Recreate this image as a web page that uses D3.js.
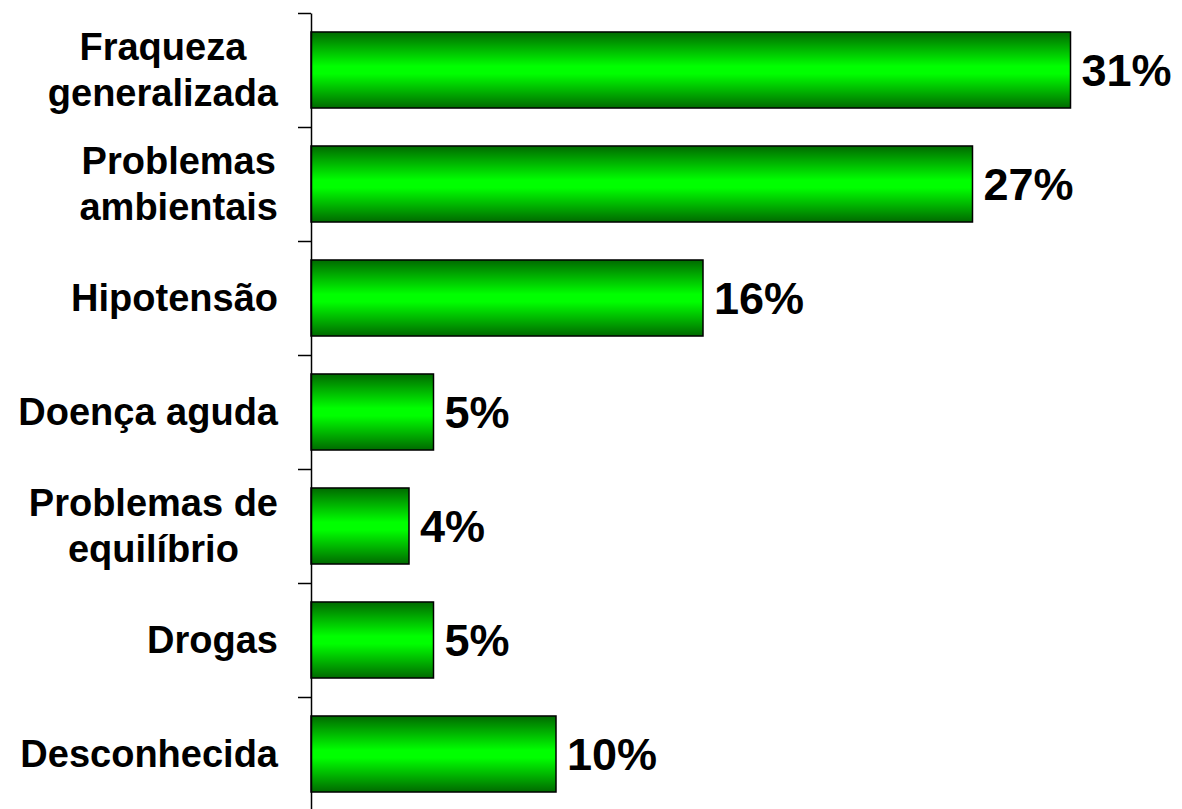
<!DOCTYPE html>
<meta charset="utf-8">
<script src="https://d3js.org/d3.v7.min.js"></script>
<style>
  body { margin: 0; background: #fff; }
  svg { display: block; font-family: "Liberation Sans", Arial, sans-serif; font-weight: bold; }
</style>
<div id="chart"></div>
<script>
var categories = ["Fraqueza\ngeneralizada", "Problemas\nambientais", "Hipotensão", "Doença aguda",
                  "Problemas de\nequilíbrio", "Drogas", "Desconhecida"];
var values = [31, 27, 16, 5, 4, 5, 10];
var valueLabels = ["31%", "27%", "16%", "5%", "4%", "5%", "10%"];

var W = 1182, H = 809;
var axisX = 311, plotTop = 13, plotBottom = 811;

var svg = d3.select("#chart").append("svg")
    .attr("width", W).attr("height", H);

var defs = svg.append("defs");
var grad = defs.append("linearGradient")
    .attr("id", "barGrad").attr("x1", 0).attr("y1", 0).attr("x2", 0).attr("y2", 1);
grad.append("stop").attr("offset", "0%").attr("stop-color", "#006a00");
grad.append("stop").attr("offset", "45%").attr("stop-color", "#00ff00");
grad.append("stop").attr("offset", "55%").attr("stop-color", "#00ff00");
grad.append("stop").attr("offset", "100%").attr("stop-color", "#006a00");

var y = d3.scaleBand()
    .domain(categories)
    .range([plotTop, plotBottom])
    .paddingInner(0.333)
    .paddingOuter(0.1665);

var x = d3.scaleLinear()
    .domain([0, 35])
    .range([axisX, axisX + 857.5]);

// bars
svg.selectAll(".bar")
    .data(categories)
    .enter().append("rect")
    .attr("class", "bar")
    .attr("x", x(0))
    .attr("y", function(d) { return y(d); })
    .attr("width", function(d, i) { return x(values[i]) - x(0); })
    .attr("height", y.bandwidth())
    .attr("fill", "url(#barGrad)")
    .attr("stroke", "#000")
    .attr("stroke-width", 1.5);

// value labels
svg.selectAll(".val")
    .data(categories)
    .enter().append("text")
    .attr("class", "val")
    .attr("x", function(d, i) { return x(values[i]) + 11; })
    .attr("y", function(d) { return y(d) + y.bandwidth() / 2 + 16; })
    .attr("font-size", "45px")
    .attr("fill", "#000")
    .text(function(d, i) { return valueLabels[i]; });

// axis with ticks at band boundaries
var idx = d3.scaleLinear().domain([0, categories.length]).range([plotTop, plotBottom]);
svg.append("g")
    .attr("transform", "translate(" + axisX + ",0)")
    .call(d3.axisLeft(idx).ticks(categories.length).tickFormat("").tickSize(13).tickSizeOuter(0))
    .call(function(g) { g.selectAll("path, line").attr("stroke", "#000").attr("stroke-width", 1.5); });

// category labels, multi-line, centered and right aligned as a block
var lineH = 46;
svg.selectAll(".cat")
    .data(categories)
    .enter().append("text")
    .attr("class", "cat")
    .attr("font-size", "38px")
    .attr("fill", "#000")
    .attr("text-anchor", "middle")
    .each(function(d) {
        var lines = d.split("\n");
        var t = d3.select(this);
        var cy = y(d) + y.bandwidth() / 2;
        var y0 = cy - (lines.length - 1) * lineH / 2 + 13;
        lines.forEach(function(l, k) {
            t.append("tspan").attr("y", y0 + k * lineH).text(l);
        });
        var maxW = 0;
        t.selectAll("tspan").each(function() { maxW = Math.max(maxW, this.getComputedTextLength()); });
        t.selectAll("tspan").attr("x", 278 - maxW / 2);
    });
</script>
